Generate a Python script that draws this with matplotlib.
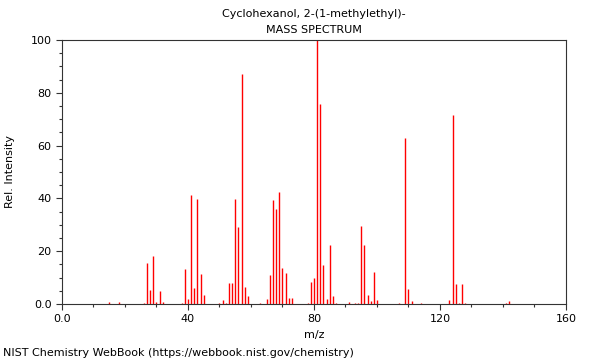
# mass spectrum of 2-isopropylcyclohexanol, NIST style
import matplotlib
matplotlib.use("Agg")
import matplotlib.pyplot as plt
from matplotlib.ticker import MultipleLocator, FuncFormatter

title = "Cyclohexanol, 2-(1-methylethyl)-"
mz = [15, 18, 26, 27, 28, 29, 30, 31, 32, 38, 39, 40, 41, 42, 43, 44, 45,
      50, 51, 52, 53, 54, 55, 56, 57, 58, 59, 63, 65, 66, 67, 68, 69, 70,
      71, 72, 73, 78, 79, 80, 81, 82, 83, 84, 85, 86, 87, 91, 93, 94, 95,
      96, 97, 98, 99, 100, 107, 109, 110, 111, 114, 123, 124, 125, 126,
      127, 128, 141, 142]
intensity = [0.9, 0.6, 0.5, 15.6, 5.4, 18.0, 0.9, 4.8, 0.6, 0.5, 13.3, 1.9,
             41.4, 6.2, 39.9, 11.5, 3.4, 0.3, 1.6, 0.5, 8.1, 8.1, 39.6, 29.1,
             87.1, 6.5, 3.0, 0.3, 1.8, 11.0, 39.4, 36.1, 42.3, 13.8, 11.8,
             2.2, 2.2, 0.4, 8.5, 9.9, 100.0, 75.9, 14.6, 1.9, 22.3, 3.0, 0.4,
             0.6, 0.4, 0.4, 29.7, 22.5, 3.4, 1.3, 12.3, 1.5, 0.4, 62.7, 5.6,
             1.3, 0.4, 1.5, 71.5, 7.6, 0.4, 7.6, 0.4, 0.4, 1.3]

plt.rcParams["font.size"] = 8

fig = plt.figure(figsize=(6, 3.6), dpi=100)
ax = fig.add_axes([0.1033, 0.1556, 0.84, 0.7333])

ax.vlines(mz, 0, intensity, colors="red", linewidth=1)

ax.set_xlim(0, 160)
ax.set_ylim(0, 100)
ax.xaxis.set_major_locator(MultipleLocator(40))
ax.xaxis.set_minor_locator(MultipleLocator(10))
ax.yaxis.set_major_locator(MultipleLocator(20))
ax.yaxis.set_minor_locator(MultipleLocator(5))

fmt = FuncFormatter(lambda v, pos: "0.0" if v == 0 else "%d" % v)
ax.xaxis.set_major_formatter(fmt)
ax.yaxis.set_major_formatter(fmt)
ax.tick_params(which="major", length=4, width=0.8, color="#333333")
ax.tick_params(which="minor", length=2.5, width=0.8, color="#333333")
for s in ax.spines.values():
    s.set_color("#333333")
    s.set_linewidth(0.8)

ax.set_xlabel("m/z")
ax.set_ylabel("Rel. Intensity", labelpad=11)

cx = 0.5233  # centre of the axes
fig.text(cx, 0.96, title, ha="center", va="center")
fig.text(cx, 0.916, "MASS SPECTRUM", ha="center", va="center")
fig.text(0.005, 0.02, "NIST Chemistry WebBook (https://webbook.nist.gov/chemistry)",
         ha="left", va="center")

fig.savefig("out.png", dpi=100)
